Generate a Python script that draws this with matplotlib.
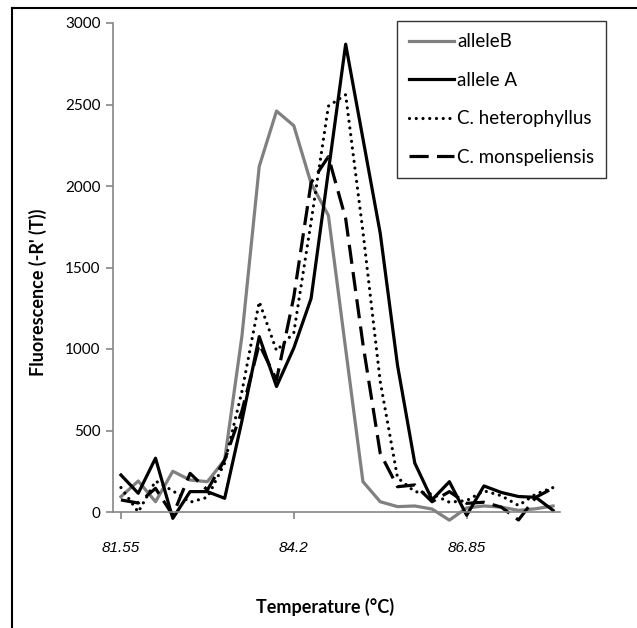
import matplotlib
matplotlib.use("Agg")
import matplotlib.pyplot as plt
from matplotlib.lines import Line2D

# melt curve data, one value per temperature step (every 0.265 °C)
allele_b = [94, 190, 63, 250, 196, 186, 320, 1080, 2120, 2460, 2370, 2016, 1820,
            1000, 186, 63, 33, 37, 18, -50, 25, 37, 30, 10, 20, 37]
allele_a = [227, 115, 330, -39, 125, 125, 84, 560, 1076, 770, 1006, 1310, 2090,
            2870, 2290, 1710, 900, 300, 75, 186, -20, 160, 120, 95, 90, 10]
heterophyllus = [150, 0, 190, 130, 60, 90, 300, 740, 1290, 990, 1100, 1780, 2490,
                 2560, 1720, 800, 210, 125, 110, 60, 70, 130, 100, 40, 110, 150]
monspeliensis = [74, 55, 145, -20, 237, 135, 320, 620, 1030, 810, 1320, 2020, 2180,
                 1800, 1030, 360, 155, 166, 63, 125, 53, 60, 30, -49, 90, 147]

tick_pos = [0, 10, 20]
tick_labels = ["81.55", "84.2", "86.85"]

series_names = ["alleleB", "allele A", "C. heterophyllus", "C. monspeliensis"]

plt.rcParams['font.family'] = ['Lato', 'DejaVu Sans']

fig = plt.figure(figsize=(6.37, 6.28), dpi=100)
ax = fig.add_axes([113 / 637, 1 - 512 / 628, (560 - 113) / 637, (512 - 23) / 628])

x = list(range(len(allele_b)))
lw = 2.3
ax.plot(x, allele_b, color="#808080", lw=lw, label=series_names[0], clip_on=False)
ax.plot(x, allele_a, color="black", lw=lw, label=series_names[1], clip_on=False)
ax.plot(x, heterophyllus, color="black", lw=lw, linestyle=(0, (0.01, 2.1)),
        dash_capstyle="round", label=series_names[2], clip_on=False)
ax.plot(x, monspeliensis, color="black", lw=lw, linestyle=(0, (6, 2.6)),
        dash_capstyle="butt", label=series_names[3], clip_on=False)

ax.set_ylim(0, 3000)
ax.set_xlim(-0.46, 25.4)
ax.set_yticks([0, 500, 1000, 1500, 2000, 2500, 3000])
ax.set_xticks(tick_pos)
ax.set_xticklabels(tick_labels, fontfamily="Liberation Sans", fontstyle="italic", fontsize=11)
ax.tick_params(axis="y", labelsize=11, length=5, color="#868686", width=1.2, pad=4)
ax.tick_params(axis="x", length=5, color="#868686", width=1.2, pad=16)

for side in ["top", "right"]:
    ax.spines[side].set_visible(False)
for side in ["left", "bottom"]:
    ax.spines[side].set_color("#868686")
    ax.spines[side].set_linewidth(1.2)

ax.set_xlabel("Temperature (°C)", fontsize=13, fontweight="bold")
ax.xaxis.set_label_coords(0.475, (512 - 598) / 489)
ax.set_ylabel("Fluorescence (-R' (T))", fontsize=13, fontweight="bold")
ax.yaxis.set_label_coords((47 - 113) / 447, 0.45)

leg = ax.legend(loc="upper left", bbox_to_anchor=(397 / 637, 1 - 21 / 628),
                bbox_transform=fig.transFigure, fontsize=13.5, frameon=True,
                fancybox=False, edgecolor="black", handlelength=2.4,
                handletextpad=0.15, labelspacing=1.15, borderpad=0.65,
                borderaxespad=0)
leg.get_frame().set_linewidth(1.0)

# outer frame of the picture
fig.add_artist(Line2D([12 / 637, 12 / 637], [0, 1 - 8 / 628], color="black",
                      lw=1.5, transform=fig.transFigure))
fig.add_artist(Line2D([12 / 637, 1], [1 - 8 / 628, 1 - 8 / 628], color="black",
                      lw=1.5, transform=fig.transFigure))

fig.savefig("out.png", dpi=100)
